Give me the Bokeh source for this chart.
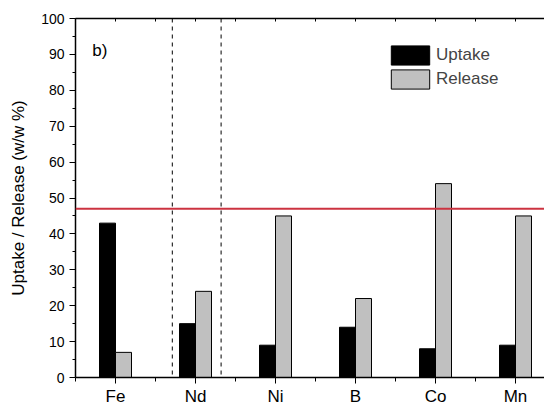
from bokeh.plotting import figure
from bokeh.models import (FixedTicker, LinearAxis, Range1d, Span, Label, Legend,
                          ColumnDataSource)
from bokeh.embed import file_html
from bokeh.resources import INLINE

# ---- data ----
elements = ["Fe", "Nd", "Ni", "B", "Co", "Mn"]
uptake = [43, 15, 9, 14, 8, 9]
release = [7, 24, 45, 22, 54, 45]
threshold = 47
nd_bounds = [0.71, 1.32]
y_ticks = list(range(0, 101, 10))
y_minor = list(range(5, 100, 10))

FONT = "Liberation Sans"

idx = list(range(len(elements)))
src = ColumnDataSource(dict(
    xu=[i - 0.1 for i in idx], xr=[i + 0.1 for i in idx],
    up=uptake, rel=release))

p = figure(width=544, height=408, output_backend="svg", toolbar_location=None,
           x_range=Range1d(-0.5, 5.3625), y_range=Range1d(0, 100),
           min_border_left=75, min_border_right=0, min_border_top=18,
           min_border_bottom=31, x_axis_location=None, y_axis_location=None)
p.xgrid.visible = False
p.ygrid.visible = False
p.outline_line_color = None
p.background_fill_color = "white"

r_up = p.vbar(x="xu", top="up", width=0.2, bottom=0, source=src,
              fill_color="black", line_color="black", line_width=1)
r_rel = p.vbar(x="xr", top="rel", width=0.2, bottom=0, source=src,
               fill_color="#c0c0c0", line_color="black", line_width=1)

xt = FixedTicker(ticks=idx, minor_ticks=[i + 0.5 for i in range(-1, len(elements))])
xaxis = LinearAxis(ticker=xt,
                   major_label_overrides={i: e for i, e in zip(idx, elements)})
xaxis.major_tick_out = 6
xaxis.major_tick_in = 0
xaxis.minor_tick_out = 4
xaxis.minor_tick_in = 0
xaxis.major_label_standoff = 3
xaxis.major_label_text_font = FONT
xaxis.major_label_text_font_size = "17px"
xaxis.major_label_text_color = "black"
xaxis.axis_line_width = 1.5
p.add_layout(xaxis, "below")

top = LinearAxis(ticker=FixedTicker(ticks=[i * 0.5 for i in range(-1, 12)]))
top.major_tick_in = 3
top.major_tick_out = 0
top.minor_tick_line_color = None
top.major_label_text_color = None
top.major_label_text_font_size = "1px"
top.major_label_standoff = 0
top.axis_line_width = 1.5
p.add_layout(top, "above")

yt = FixedTicker(ticks=y_ticks, minor_ticks=y_minor)
yaxis = LinearAxis(ticker=yt, axis_label="Uptake / Release (w/w %)")
yaxis.major_tick_out = 6
yaxis.major_tick_in = 0
yaxis.minor_tick_out = 3
yaxis.minor_tick_in = 0
yaxis.major_label_standoff = 5
yaxis.major_label_text_font = FONT
yaxis.major_label_text_font_size = "14px"
yaxis.major_label_text_color = "black"
yaxis.axis_label_text_font = FONT
yaxis.axis_label_text_font_size = "17px"
yaxis.axis_label_text_font_style = "normal"
yaxis.axis_label_text_color = "black"
yaxis.axis_label_standoff = 10
yaxis.axis_line_width = 1.5
p.add_layout(yaxis, "left")

for xb in nd_bounds:
    p.add_layout(Span(location=xb, dimension="height", line_color="black",
                      line_dash="4 4", line_width=1))

p.add_layout(Span(location=threshold, dimension="width", line_color="#cc3340",
                  line_width=2))

p.add_layout(Label(x=-0.29, y=91, text="b)", text_font=FONT, text_font_size="17px",
                   text_baseline="middle", text_color="black"))

legend = Legend(items=[("Uptake", [r_up]), ("Release", [r_rel])],
                location=(311, 286), glyph_width=48, glyph_height=24,
                label_height=24, spacing=-2, padding=0, margin=0,
                label_standoff=2, label_text_font=FONT, label_text_font_size="17px",
                border_line_color=None, background_fill_alpha=0)
p.add_layout(legend, "center")

open("out.html", "w").write(file_html(p, INLINE))
